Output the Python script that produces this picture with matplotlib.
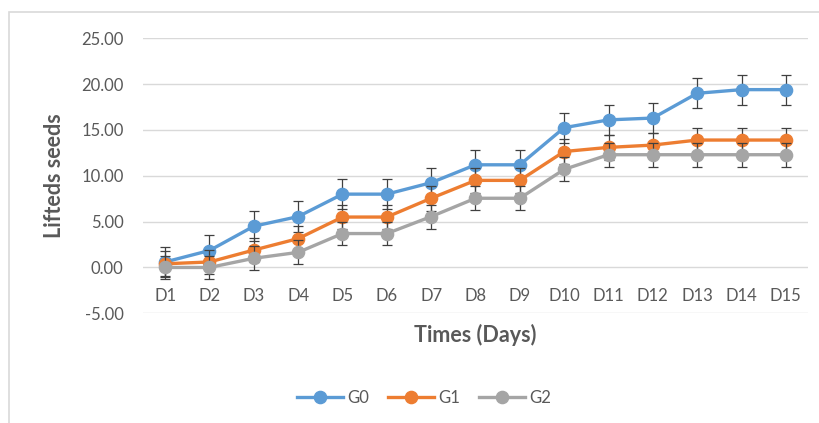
import matplotlib
matplotlib.use("Agg")
import matplotlib.pyplot as plt
from matplotlib.patches import Rectangle
from matplotlib.lines import Line2D

days = ["D1", "D2", "D3", "D4", "D5", "D6", "D7", "D8", "D9", "D10", "D11", "D12", "D13", "D14", "D15"]
g0 = [0.6, 1.85, 4.5, 5.55, 8.0, 8.0, 9.25, 11.2, 11.2, 15.25, 16.1, 16.3, 19.0, 19.4, 19.4]
g1 = [0.4, 0.6, 1.9, 3.15, 5.5, 5.5, 7.55, 9.5, 9.5, 12.65, 13.1, 13.35, 13.9, 13.9, 13.9]
g2 = [0.0, 0.0, 1.0, 1.65, 3.7, 3.7, 5.55, 7.55, 7.55, 10.7, 12.3, 12.3, 12.3, 12.3, 12.3]
err_g0 = [1.65] * 15
err_g1 = [1.35] * 15
err_g2 = [1.3] * 15
series_names = ["G0", "G1", "G2"]
yticks = [-5, 0, 5, 10, 15, 20, 25]

plt.rcParams['font.family'] = ['Lato', 'DejaVu Sans']

W, H = 820, 423
fig = plt.figure(figsize=(W / 100, H / 100), dpi=100)
fig.patch.set_facecolor("white")

# chart area border
fig.patches.append(Rectangle((9 / W, -0.1), 1.2, 1 - 12 / H + 0.1, transform=fig.transFigure,
                             fill=False, edgecolor="#D9D9D9", lw=1.2, zorder=0))

left, right = 143 / W, 808 / W
top, bottom = 1 - 38.3 / H, 1 - 313.3 / H
ax = fig.add_axes([left, bottom, right - left, top - bottom])

x = list(range(1, len(days) + 1))
colors = ["#5B9BD5", "#ED7D31", "#A5A5A5"]
for i, (vals, errs, name, c) in enumerate(zip([g0, g1, g2], [err_g0, err_g1, err_g2], series_names, colors)):
    ax.errorbar(x, vals, yerr=errs, color=c, lw=2.4, marker="o", markersize=8.8,
                ecolor="#404040", elinewidth=0.9, capsize=3.8, capthick=0.9,
                label=name, zorder=3 + i)

ax.set_xlim(0.5, len(days) + 0.5)
ax.set_ylim(-5, 25)
ax.set_yticks(yticks)
ax.set_yticklabels([f"{v:.2f}" for v in yticks])
ax.set_xticks(x)
ax.set_xticklabels(days)
ax.grid(axis="y", color="#D9D9D9", lw=1)
ax.set_axisbelow(True)
for s in ax.spines.values():
    s.set_visible(False)
ax.spines["bottom"].set_position(("data", 0))
ax.tick_params(axis="both", length=0, labelsize=12, labelcolor="#595959")
ax.tick_params(axis="y", pad=14)
ax.tick_params(axis="x", pad=15)

fig.text(475.5 / W, 1 - 334.5 / H, "Times (Days)", ha="center", va="center",
         fontsize=15.5, fontweight="bold", color="#595959")
fig.text(55 / W, 1 - 176 / H, "Lifteds seeds", ha="center", va="center", rotation=90,
         fontsize=15.5, fontweight="bold", color="#595959")

hs = [Line2D([], [], color=c, lw=2.4, marker="o", markersize=8.8) for c in colors]
fig.legend(hs, series_names, loc="center", bbox_to_anchor=(424 / W, 1 - 398 / H), ncol=3,
           frameon=False, fontsize=12, labelcolor="#595959", handlelength=2.8,
           handletextpad=0.25, columnspacing=1.1)

fig.savefig("out.png", dpi=100)
